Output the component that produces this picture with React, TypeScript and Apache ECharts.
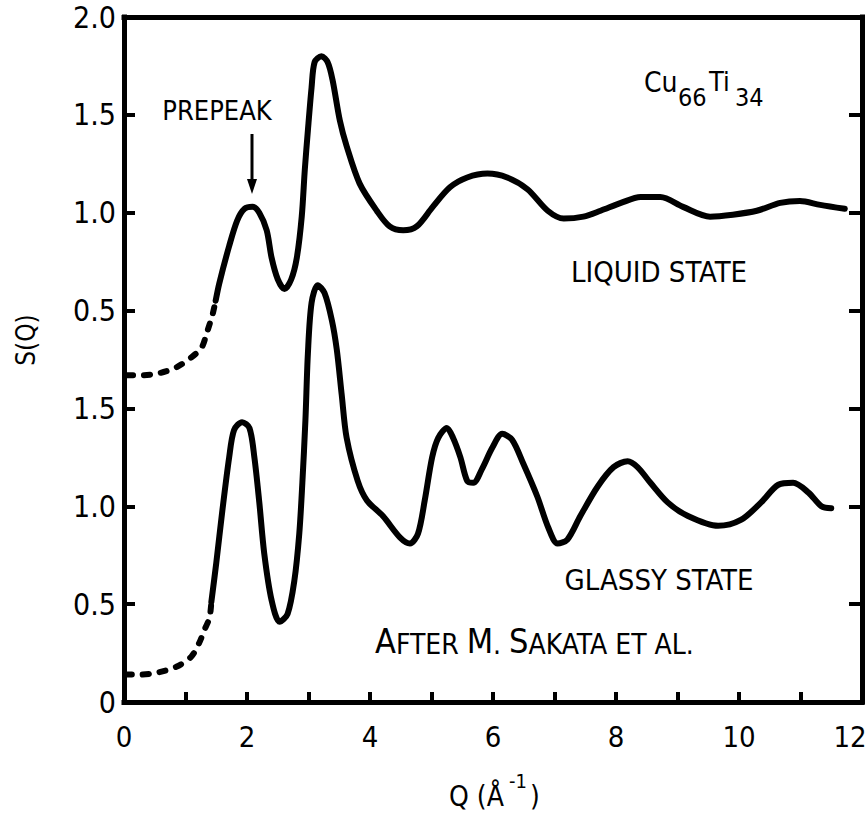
import React, { useEffect, useRef } from "react";
import * as echarts from "echarts";

// ---- Data (S(Q)) ----
const LIQUID_OFFSET = 1.5; // liquid curve is shifted up by 1.5 on the shared axis

const liquidDashedQ = [0.05, 0.3, 0.57, 0.85, 1.09, 1.26, 1.35, 1.44, 1.49];
const liquidDashedS = [0.17, 0.17, 0.18, 0.21, 0.26, 0.31, 0.39, 0.48, 0.55];

const liquidQ = [1.49, 1.55, 1.71, 1.84, 1.96, 2.09, 2.2, 2.32, 2.4, 2.5, 2.61, 2.72, 2.81, 2.89, 2.94, 2.99, 3.05, 3.1, 3.21, 3.31, 3.39, 3.51, 3.62, 3.83, 4.11, 4.32, 4.54, 4.76, 5.02, 5.3, 5.58, 5.91, 6.23, 6.56, 6.89, 7.15, 7.47, 7.75, 8.08, 8.4, 8.72, 9.09, 9.53, 9.9, 10.29, 10.67, 10.99, 11.32, 11.72];
const liquidS = [0.55, 0.64, 0.83, 0.96, 1.02, 1.03, 1.0, 0.91, 0.77, 0.66, 0.61, 0.66, 0.77, 0.98, 1.22, 1.42, 1.64, 1.77, 1.8, 1.77, 1.68, 1.47, 1.34, 1.15, 1.01, 0.93, 0.91, 0.93, 1.03, 1.13, 1.18, 1.2, 1.18, 1.12, 1.01, 0.97, 0.98, 1.01, 1.05, 1.08, 1.08, 1.03, 0.98, 0.99, 1.01, 1.05, 1.06, 1.04, 1.02];

const glassyDashedQ = [0.03, 0.24, 0.54, 0.85, 1.09, 1.22, 1.31, 1.39, 1.42];
const glassyDashedS = [0.14, 0.14, 0.15, 0.18, 0.23, 0.3, 0.37, 0.43, 0.51];

const glassyQ = [1.42, 1.5, 1.6, 1.71, 1.79, 1.92, 2.04, 2.12, 2.2, 2.28, 2.4, 2.53, 2.66, 2.77, 2.85, 2.9, 2.95, 2.99, 3.05, 3.15, 3.26, 3.38, 3.46, 3.54, 3.62, 3.8, 3.95, 4.21, 4.49, 4.65, 4.78, 4.89, 5.01, 5.11, 5.25, 5.35, 5.47, 5.58, 5.68, 5.82, 5.99, 6.15, 6.31, 6.49, 6.72, 6.9, 7.05, 7.21, 7.42, 7.7, 7.96, 8.19, 8.35, 8.56, 8.84, 9.17, 9.66, 10.03, 10.36, 10.64, 10.88, 11.13, 11.34, 11.5];
const glassyS = [0.51, 0.71, 0.98, 1.25, 1.39, 1.43, 1.4, 1.25, 1.02, 0.76, 0.52, 0.41, 0.45, 0.62, 0.86, 1.12, 1.44, 1.78, 2.04, 2.13, 2.09, 1.95, 1.8, 1.57, 1.35, 1.13, 1.03, 0.95, 0.84, 0.81, 0.86, 1.03, 1.25, 1.35, 1.4, 1.35, 1.25, 1.13, 1.12, 1.19, 1.3, 1.37, 1.34, 1.22, 1.05, 0.89, 0.81, 0.83, 0.95, 1.1, 1.2, 1.23, 1.2, 1.12, 1.02, 0.95, 0.9, 0.93, 1.02, 1.11, 1.12, 1.07, 1.0, 0.99];

// Tick labels
const X_TICK_LABELS = ["0", "", "2", "", "4", "", "6", "", "8", "", "10", "", "12"];
const Y_TICK_LABELS = ["0", "0.5", "1.0", "1.5", "0.5", "1.0", "1.5", "2.0"];

const FONT = '"DejaVu Sans Condensed", "Liberation Sans Narrow", "DejaVu Sans", sans-serif';

const pairs = (qs: number[], ss: number[], off: number) => qs.map((q, i) => [q, ss[i] + off]);

export default function App() {
  const ref = useRef<HTMLDivElement>(null);
  useEffect(() => {
    if (!ref.current) return;
    const chart = echarts.init(ref.current, undefined, { renderer: "svg" });
    const axisLine = { show: true, onZero: false, lineStyle: { color: "#000", width: 5, cap: "square" } };
    const solid = { color: "#000", width: 6, cap: "round" as const, join: "round" as const };
    const dashed = { color: "#000", width: 6, type: [6, 11], cap: "round" as const };
    const txt = (x: number, y: number, text: string, size: number, align = "left", extra: any = {}) => ({
      type: "text",
      x,
      y,
      silent: true,
      ...extra,
      style: {
        text,
        fill: "#000",
        fontFamily: FONT,
        fontSize: size,
        align,
        verticalAlign: "middle",
        textAlign: align,
        textVerticalAlign: "middle",
      },
    });
    const lastIdx = X_TICK_LABELS.length - 1;
    chart.setOption({
      animation: false,
      backgroundColor: "#fff",
      grid: { left: 124, top: 17, width: 738, height: 685, containLabel: false, outerBoundsMode: "none" },
      xAxis: [
        {
          type: "value",
          min: 0,
          max: 12,
          interval: 1,
          position: "bottom",
          axisLine,
          axisTick: { show: true, inside: true, length: 10, lineStyle: { color: "#000", width: 4 } },
          axisLabel: {
            color: "#000",
            fontFamily: FONT,
            fontSize: 29,
            margin: 20,
            formatter: (v: number) => {
              const i = Math.round(v);
              const s = X_TICK_LABELS[i] ?? "";
              return i === lastIdx && s ? `{r|${s}}` : s;
            },
            rich: {
              r: { fontFamily: FONT, fontSize: 29, color: "#000", padding: [0, 24, 0, 0] },
            },
          },
          splitLine: { show: false },
        },
        {
          type: "value",
          min: 0,
          max: 12,
          interval: 1,
          position: "top",
          axisLine,
          axisTick: { show: false },
          axisLabel: { show: false },
          splitLine: { show: false },
        },
      ],
      yAxis: [
        {
          type: "value",
          min: 0,
          max: 3.5,
          interval: 0.5,
          position: "left",
          axisLine,
          axisTick: { show: true, inside: true, length: 11, lineStyle: { color: "#000", width: 4 } },
          axisLabel: {
            color: "#000",
            fontFamily: FONT,
            fontSize: 30,
            margin: 8,
            formatter: (v: number) => Y_TICK_LABELS[Math.round(v / 0.5)] ?? "",
          },
          splitLine: { show: false },
        },
        {
          type: "value",
          min: 0,
          max: 3.5,
          interval: 0.5,
          position: "right",
          axisLine,
          axisTick: { show: true, inside: true, length: 13, lineStyle: { color: "#000", width: 4 } },
          axisLabel: { show: false },
          splitLine: { show: false },
        },
      ],
      series: [
        { type: "line", data: pairs(liquidDashedQ, liquidDashedS, LIQUID_OFFSET), symbol: "none", smooth: 0.3, lineStyle: dashed },
        { type: "line", data: pairs(liquidQ, liquidS, LIQUID_OFFSET), symbol: "none", smooth: 0.3, lineStyle: solid },
        { type: "line", data: pairs(glassyDashedQ, glassyDashedS, 0), symbol: "none", smooth: 0.3, lineStyle: dashed },
        { type: "line", data: pairs(glassyQ, glassyS, 0), symbol: "none", smooth: 0.3, lineStyle: solid },
      ],
      graphic: [
        txt(217, 110, "PREPEAK", 27, "center"),
        { type: "line", silent: true, shape: { x1: 252, y1: 134, x2: 252, y2: 184 }, style: { stroke: "#000", lineWidth: 3 } },
        { type: "polygon", silent: true, shape: { points: [[247, 179], [257, 179], [252, 194]] }, style: { fill: "#000" } },
        txt(644, 82, "Cu", 28),
        txt(678, 97, "66", 25),
        txt(709, 81, "Ti", 27),
        txt(735, 97, "34", 25),
        txt(659, 272, "LIQUID STATE", 29, "center"),
        txt(659, 580, "GLASSY STATE", 29, "center"),
        {
          type: "text",
          x: 375,
          y: 658,
          silent: true,
          style: {
            text: "{b|A}{s|FTER }{b|M}{s|. }{b|S}{s|AKATA ET AL.}",
            fill: "#000",
            align: "left",
            verticalAlign: "bottom",
            textAlign: "left",
            textVerticalAlign: "bottom",
            rich: {
              b: { fontFamily: FONT, fontSize: 34, lineHeight: 34, verticalAlign: "bottom", fill: "#000", color: "#000" },
              s: { fontFamily: FONT, fontSize: 28, lineHeight: 28, verticalAlign: "bottom", fill: "#000", color: "#000" },
            },
          },
        },
        txt(449, 796, "Q (Å", 28),
        txt(509, 781, "-1", 20),
        txt(530, 796, ")", 28),
        txt(26, 340, "S(Q)", 26, "center", { rotation: Math.PI / 2 }),
      ],
    });
    return () => chart.dispose();
  }, []);
  return <div ref={ref} style={{ position: "fixed", left: 0, top: 0, width: 868, height: 813, background: "#fff" }} />;
}
